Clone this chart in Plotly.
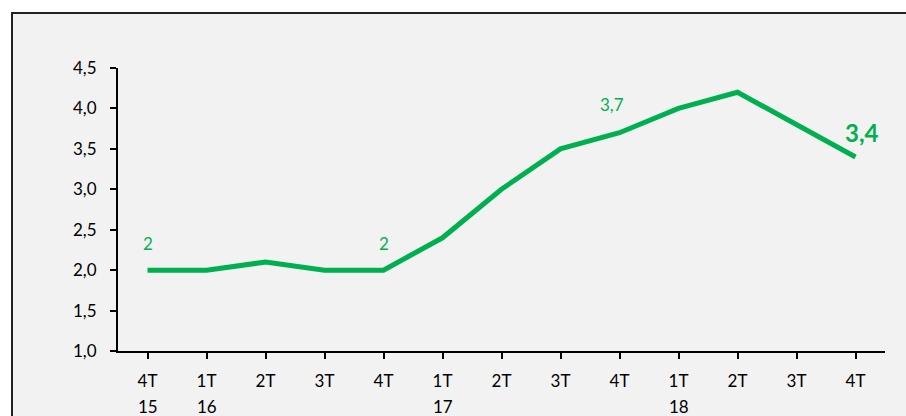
import plotly.graph_objects as go

quarters = ["4T", "1T", "2T", "3T", "4T", "1T", "2T", "3T", "4T", "1T", "2T", "3T", "4T"]
years = ["15", "16", "", "", "", "17", "", "", "", "18", "", "", ""]
values = [2.0, 2.0, 2.1, 2.0, 2.0, 2.4, 3.0, 3.5, 3.7, 4.0, 4.2, 3.8, 3.4]
labels = ["2", "", "", "", "2", "", "", "", "3,7", "", "", "", "3,4"]
ytick_vals = [1.0, 1.5, 2.0, 2.5, 3.0, 3.5, 4.0, 4.5]
ytick_text = ["1,0", "1,5", "2,0", "2,5", "3,0", "3,5", "4,0", "4,5"]

GREEN = "#00B050"
FONT = "Lato"
x = list(range(len(values)))

fig = go.Figure()
fig.add_trace(go.Scatter(x=x, y=values, mode="lines",
                         line=dict(color=GREEN, width=5), hoverinfo="skip"))

annotations = []
for i, (lab, v) in enumerate(zip(labels, values)):
    if not lab:
        continue
    last = i == len(values) - 1
    if last:
        xs, ys = 6, 24
    elif lab == "3,7":
        xs, ys = -8, 28
    else:
        xs, ys = 0, 27
    annotations.append(dict(
        x=i, y=v, xref="x", yref="y", text=f"<b>{lab}</b>" if last else lab, showarrow=False,
        font=dict(family=FONT, size=24 if last else 17, color=GREEN),
        xshift=xs, yshift=ys,
    ))
for i, yr in enumerate(years):
    if yr:
        annotations.append(dict(x=i, y=0, xref="x", yref="paper", text=yr, showarrow=False,
                                font=dict(family=FONT, size=17, color="#000"), yshift=-68))

fig.update_layout(
    width=906, height=416,
    margin=dict(l=118, r=21, t=68, b=65, autoexpand=False),
    paper_bgcolor="white",
    plot_bgcolor="rgba(0,0,0,0)",
    showlegend=False,
    annotations=annotations,
    shapes=[dict(type="rect", xref="paper", yref="paper", x0=-0.1382, x1=1.3, y0=-0.6, y1=1.194,
                 line=dict(color="#222", width=2), fillcolor="#f2f2f2", layer="below")],
    xaxis=dict(range=[-0.5, len(values) - 0.5], tickmode="array", tickvals=x, ticktext=quarters,
               showgrid=False, zeroline=False, showline=True, linecolor="#000", linewidth=2,
               ticks="outside", ticklen=6, tickwidth=2, tickcolor="#000", automargin=False,
               tickfont=dict(family=FONT, size=17, color="#000"), ticklabelstandoff=8),
    yaxis=dict(range=[1.0, 4.5], tickmode="array", tickvals=ytick_vals, ticktext=ytick_text,
               showgrid=False, zeroline=False, showline=True, linecolor="#000", linewidth=2,
               ticks="outside", ticklen=6, tickwidth=2, tickcolor="#000", automargin=False,
               tickfont=dict(family=FONT, size=17, color="#000"), ticklabelstandoff=10),
)
fig.write_html("out.html", config={"displayModeBar": False},
               post_script="document.body.style.margin='0';document.body.style.overflow='hidden';")
